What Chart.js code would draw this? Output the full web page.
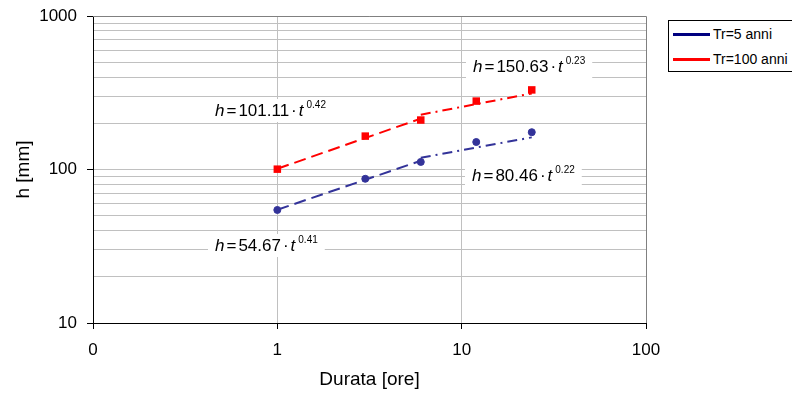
<!DOCTYPE html>
<html lang="it">
<head>
<meta charset="UTF-8">
<title>Curve di possibilità pluviometrica</title>
<script src="https://cdn.jsdelivr.net/npm/chart.js@4.4.0/dist/chart.umd.min.js"></script>
<style>
  html, body { margin: 0; padding: 0; background: #fff; }
  .wrap { position: relative; width: 792px; height: 394px; overflow: hidden;
          font-family: "Liberation Sans", Arial, sans-serif; }
  .legend { position: absolute; left: 668px; top: 20px; width: 140px; height: 50px;
            border: 1px solid #000; background: #fff; }
  .legend .item { position: absolute; left: 4px; height: 20px; display: flex;
                  align-items: center; font-size: 14px; color: #000; white-space: nowrap; }
  .legend .swatch { width: 37px; height: 3px; margin-right: 3px; }
</style>
</head>
<body>
<div class="wrap">
  <canvas id="chart" width="792" height="394"></canvas>
  <div class="legend" id="legend"></div>
</div>

<script>
// durate (ore) e altezze di pioggia
const durata = [1, 3, 6, 12, 24];
const hTr5 = [54.5, 87, 112, 151, 175];
const hTr100 = [100.5, 165, 210, 279, 330];

// estremi delle linee di tendenza (potenza)
const fitT1 = [1, 6];
const fitT2 = [6, 24];
const fitTr5a = [54.67, 113.96];
const fitTr5b = [119.34, 161.9];
const fitTr100a = [101.11, 214.6];
const fitTr100b = [227.45, 312.9];

// testi delle equazioni: [coeff, esponente]
const eqTexts = [
  ["101.11", "0.42"],
  ["150.63", "0.23"],
  ["80.46", "0.22"],
  ["54.67", "0.41"]
];

const seriesNames = ["Tr=5 anni", "Tr=100 anni"];
const legendColors = ["#000080", "#ff0000"];

const xTicks = [0.1, 1, 10, 100];
const xTickLabels = ["0", "1", "10", "100"];
const yTicks = [10, 100, 1000];
const yGrid = [10, 20, 30, 40, 50, 60, 70, 80, 90,
               100, 200, 300, 400, 500, 600, 700, 800, 900, 1000];

const BLUE = "#333399";
const RED = "#ff0000";
const FONT = '"Liberation Sans", Arial, sans-serif';

const pts = (xs, ys) => xs.map((x, i) => ({ x: x, y: ys[i] }));

// legenda html
const leg = document.getElementById("legend");
seriesNames.forEach((name, i) => {
  const it = document.createElement("div");
  it.className = "item";
  it.style.top = (3 + i * 25) + "px";
  it.innerHTML = '<span class="swatch" style="background:' + legendColors[i] + '"></span>' + name;
  leg.appendChild(it);
});

// bordo superiore e destro dell'area del grafico
const framePlugin = {
  id: "frame",
  beforeDatasetsDraw(chart) {
    const { ctx, chartArea: a } = chart;
    ctx.save();
    ctx.strokeStyle = "#808080";
    ctx.lineWidth = 1;
    ctx.beginPath();
    ctx.moveTo(a.left, Math.round(a.top) + 0.5);
    ctx.lineTo(Math.round(a.right) + 0.5, Math.round(a.top) + 0.5);
    ctx.lineTo(Math.round(a.right) + 0.5, a.bottom);
    ctx.stroke();
    ctx.restore();
  }
};

function drawFormula(ctx, x, y, coef, expo) {
  const main = "17px " + FONT, ital = "italic 17px " + FONT, sup = "10px " + FONT;
  const parts = [
    { t: "h", f: ital, gap: 2 },
    { t: "=", f: main, gap: 2 },
    { t: coef, f: main, gap: 2 },
    { t: "\u00b7", f: main, gap: 2 },
    { t: "t", f: ital, gap: 3 },
    { t: expo, f: sup, gap: 0, dy: -8 }
  ];
  let w = 0;
  parts.forEach(p => { ctx.font = p.f; p.w = ctx.measureText(p.t).width; w += p.w + p.gap; });
  ctx.fillStyle = "#fff";
  ctx.fillRect(x - 7, y - 17, w + 14, 23);
  ctx.fillStyle = "#000";
  ctx.textAlign = "left";
  ctx.textBaseline = "alphabetic";
  let cx = x;
  parts.forEach(p => { ctx.font = p.f; ctx.fillText(p.t, cx, y + (p.dy || 0)); cx += p.w + p.gap; });
}

const formulaPlugin = {
  id: "formule",
  afterDraw(chart) {
    const { ctx, chartArea: a } = chart;
    // posizione (sinistra, linea di base) relativa all'area del grafico
    const pos = [[122, 100], [380, 56], [379, 165], [122, 235]];
    ctx.save();
    eqTexts.forEach((e, i) => drawFormula(ctx, a.left + pos[i][0], a.top + pos[i][1], e[0], e[1]));
    ctx.restore();
  }
};

new Chart(document.getElementById("chart"), {
  type: "scatter",
  data: {
    datasets: [
      { data: pts(fitT1, fitTr5a), showLine: true, borderColor: BLUE, borderWidth: 2,
        borderDash: [12, 6], pointRadius: 0 },
      { data: pts(fitT2, fitTr5b), showLine: true, borderColor: BLUE, borderWidth: 2,
        borderDash: [10, 5, 2, 5], pointRadius: 0 },
      { data: pts(fitT1, fitTr100a), showLine: true, borderColor: RED, borderWidth: 2,
        borderDash: [12, 6], pointRadius: 0 },
      { data: pts(fitT2, fitTr100b), showLine: true, borderColor: RED, borderWidth: 2,
        borderDash: [10, 5, 2, 5], pointRadius: 0 },
      { label: seriesNames[0], data: pts(durata, hTr5), showLine: false,
        pointStyle: "circle", pointRadius: 3.5, backgroundColor: BLUE, borderColor: BLUE, borderWidth: 1 },
      { label: seriesNames[1], data: pts(durata, hTr100), showLine: false,
        pointStyle: "rect", pointRadius: 5.3, backgroundColor: RED, borderColor: RED, borderWidth: 0 }
    ]
  },
  options: {
    responsive: false,
    animation: false,
    events: [],
    layout: { padding: { left: 0, top: 16, right: 146, bottom: 0 } },
    plugins: { legend: { display: false }, tooltip: { enabled: false } },
    scales: {
      x: {
        type: "logarithmic",
        position: "bottom",
        min: 0.1,
        max: 100,
        afterBuildTicks: (s) => { s.ticks = xTicks.map(v => ({ value: v })); },
        afterFit: (s) => { s.height = 71; },
        ticks: {
          autoSkip: false,
          maxRotation: 0,
          padding: 11,
          color: "#000",
          font: { family: FONT, size: 17 },
          callback: (v) => xTickLabels[xTicks.indexOf(v)]
        },
        grid: {
          color: (c) => (c.tick && (c.tick.value === 1 || c.tick.value === 10)) ? "#c0c0c0" : "rgba(0,0,0,0)",
          tickColor: "#000",
          tickLength: 6,
          lineWidth: 1
        },
        border: { display: true, color: "#000", width: 1 },
        title: {
          display: true,
          text: "Durata [ore]",
          color: "#000",
          font: { family: FONT, size: 19 },
          padding: { top: 0, bottom: 3 }
        }
      },
      y: {
        type: "logarithmic",
        position: "left",
        min: 10,
        max: 1000,
        afterBuildTicks: (s) => { s.ticks = yGrid.map(v => ({ value: v })); },
        afterFit: (s) => { s.width = 93; s.paddingTop = 0; s.paddingBottom = 0; },
        ticks: {
          autoSkip: false,
          padding: 10,
          color: "#000",
          font: { family: FONT, size: 17 },
          callback: (v) => yTicks.includes(v) ? String(v) : ""
        },
        grid: {
          color: "#c0c0c0",
          tickColor: (c) => (c.tick && yTicks.includes(c.tick.value)) ? "#000" : "rgba(0,0,0,0)",
          tickLength: 6,
          lineWidth: 1
        },
        border: { display: true, color: "#000", width: 1 },
        title: {
          display: true,
          text: "h [mm]",
          color: "#000",
          font: { family: FONT, size: 19 },
          padding: { top: 12, bottom: 0 }
        }
      }
    }
  },
  plugins: [framePlugin, formulaPlugin]
});
</script>
</body>
</html>
